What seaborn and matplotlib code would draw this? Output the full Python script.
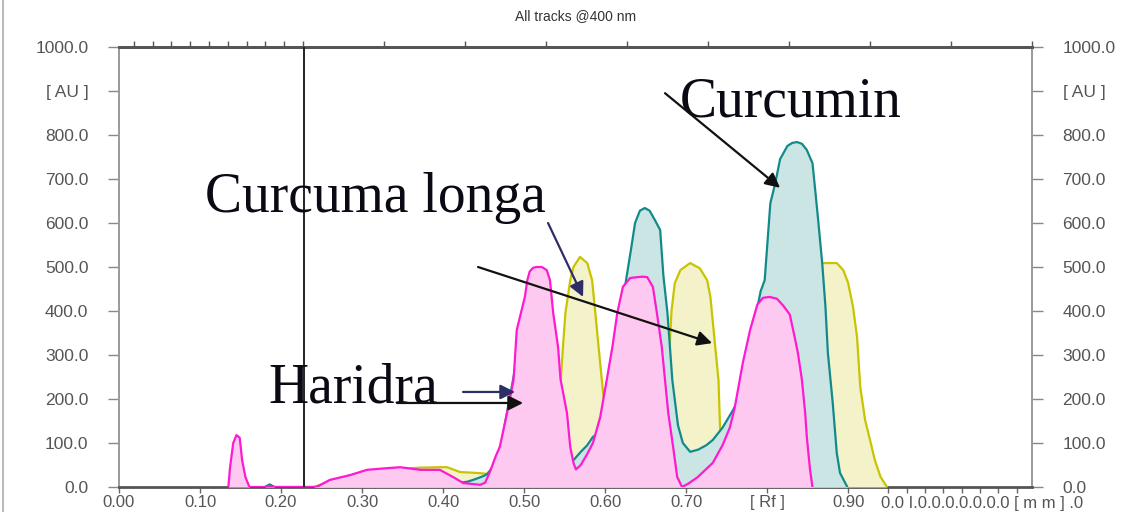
import numpy as np
import seaborn as sns
import matplotlib.pyplot as plt
from matplotlib.lines import Line2D

# densitogram tracks (Rf, AU)
rf_haridra = [0.135, 0.137, 0.141, 0.145, 0.149, 0.152, 0.156, 0.161, 0.244, 0.260,
              0.285, 0.306, 0.325, 0.347, 0.372, 0.396, 0.412, 0.425, 0.446, 0.452,
              0.458, 0.465, 0.470, 0.479, 0.487, 0.491, 0.501, 0.504, 0.507, 0.511,
              0.515, 0.522, 0.528, 0.532, 0.536, 0.542, 0.545, 0.553, 0.557, 0.561,
              0.564, 0.570, 0.578, 0.585, 0.594, 0.602, 0.609, 0.615, 0.622, 0.631,
              0.640, 0.646, 0.652, 0.659, 0.664, 0.670, 0.674, 0.678, 0.684, 0.689,
              0.695, 0.703, 0.714, 0.733, 0.745, 0.754, 0.760, 0.770, 0.779, 0.788,
              0.795, 0.803, 0.812, 0.820, 0.828, 0.834, 0.838, 0.843, 0.847, 0.849,
              0.853, 0.856]
au_haridra = [0, 43, 100, 118, 112, 61, 23, 0, 0, 16,
              27, 39, 42, 45, 39, 39, 23, 9, 5, 10,
              35, 70, 91, 168, 243, 357, 432, 470, 490, 498,
              500, 500, 493, 470, 395, 318, 245, 168, 91, 55,
              40, 50, 75, 100, 159, 243, 318, 395, 455, 475,
              477, 478, 477, 455, 395, 318, 243, 168, 91, 23,
              0, 8, 22, 55, 95, 135, 180, 282, 357, 415,
              430, 432, 428, 412, 392, 341, 305, 243, 168, 114,
              39, 0]

rf_curcumin = [0.180, 0.186, 0.192, 0.244, 0.260, 0.300, 0.350, 0.380, 0.400, 0.412,
               0.421, 0.430, 0.440, 0.450, 0.455, 0.465, 0.470, 0.490, 0.500, 0.515,
               0.530, 0.540, 0.550, 0.556, 0.561, 0.570, 0.578, 0.585, 0.590, 0.600,
               0.610, 0.620, 0.625, 0.632, 0.637, 0.643, 0.649, 0.655, 0.662, 0.668,
               0.672, 0.677, 0.683, 0.690, 0.696, 0.705, 0.715, 0.725, 0.733, 0.745,
               0.758, 0.765, 0.775, 0.785, 0.792, 0.797, 0.804, 0.810, 0.816, 0.825,
               0.831, 0.837, 0.843, 0.849, 0.856, 0.859, 0.863, 0.868, 0.872, 0.875,
               0.881, 0.886, 0.890, 0.899]
au_curcumin = [0, 6, 0, 0, 14, 33, 42, 37, 30, 20,
               10, 12, 18, 25, 30, 55, 80, 280, 380, 440,
               400, 250, 90, 55, 61, 80, 95, 114, 120, 190,
               300, 420, 460, 540, 600, 628, 634, 628, 605, 584,
               480, 395, 243, 140, 100, 80, 85, 95, 107, 135,
               175, 200, 260, 380, 445, 470, 645, 690, 745, 775,
               782, 784, 780, 766, 736, 682, 607, 509, 410, 305,
               191, 77, 32, 0]

rf_longa = [0.240, 0.260, 0.300, 0.350, 0.372, 0.396, 0.405, 0.421, 0.442, 0.454,
            0.465, 0.480, 0.500, 0.520, 0.535, 0.541, 0.545, 0.548, 0.551, 0.557,
            0.561, 0.569, 0.578, 0.584, 0.588, 0.592, 0.596, 0.600, 0.605, 0.612,
            0.640, 0.660, 0.672, 0.676, 0.680, 0.682, 0.686, 0.693, 0.705, 0.717,
            0.726, 0.730, 0.736, 0.740, 0.742, 0.746, 0.780, 0.820, 0.850, 0.862,
            0.868, 0.886, 0.894, 0.900, 0.906, 0.911, 0.915, 0.921, 0.927, 0.933,
            0.940, 0.948]
au_longa = [0, 12, 30, 42, 44, 45, 45, 34, 32, 30,
            50, 100, 200, 220, 180, 170, 235, 318, 395, 470,
            500, 523, 509, 470, 395, 318, 243, 170, 120, 110,
            120, 130, 150, 230, 330, 400, 463, 493, 509, 497,
            470, 432, 318, 243, 130, 110, 150, 300, 450, 500,
            509, 509, 493, 464, 410, 341, 227, 152, 107, 61,
            23, 0]

y_ticks = [0, 100, 200, 300, 400, 500, 600, 700, 800, 900, 1000]
y_labels = ['0.0', '100.0', '200.0', '300.0', '400.0', '500.0', '600.0',
            '700.0', '800.0', '[ AU ]', '1000.0']
x_ticks = [0.0, 0.1, 0.2, 0.3, 0.4, 0.5, 0.6, 0.7, 0.8, 0.9]
x_labels = ['0.00', '0.10', '0.20', '0.30', '0.40', '0.50', '0.60', '0.70',
            '[ Rf ]', '0.90']
mm_ticks = [0.949, 0.973, 0.995, 1.017, 1.041, 1.063, 1.085, 1.109]

sns.set_style('white')
plt.rcParams['font.family'] = ['Liberation Sans', 'DejaVu Sans']

fig = plt.figure(figsize=(11.3, 5.12), dpi=100)
ax = fig.add_axes([0.1053, 0.0488, 0.808, 0.8594])

tracks = [
    (rf_longa, au_longa, '#c8c400', '#f3f2c9'),
    (rf_curcumin, au_curcumin, '#138a8a', '#cbe5e5'),
    (rf_haridra, au_haridra, '#ff1ad0', '#fdc9f0'),
]
z = 3
for rf, au, line_col, fill_col in tracks:
    ax.fill_between(rf, au, 0, color=fill_col, lw=0, zorder=z)
    sns.lineplot(x=rf, y=au, ax=ax, color=line_col, lw=1.6, zorder=z + 0.1,
                 errorbar=None, sort=False)
    z += 0.2

# application position line
ax.axvline(0.228, color='#222222', lw=1.4, zorder=4)

ax.set_xlim(0, 1.127)
ax.set_ylim(0, 1000)
ax.set_xlabel('')
ax.set_ylabel('')

ax.set_yticks(y_ticks)
ax.set_yticklabels(y_labels)
ax.set_xticks(x_ticks)
ax.set_xticklabels(x_labels)
ax.set_xticks(mm_ticks, minor=True)
ax.tick_params(axis='y', left=True, right=True, labelleft=True, labelright=True,
               length=8, width=1, color='#888888', labelsize=12.5,
               labelcolor='#555555', pad=14)
ax.tick_params(axis='x', which='both', bottom=True, length=4, width=1,
               color='#666666', labelsize=12, labelcolor='#555555', pad=2)

top = ax.secondary_xaxis('top')
top.set_xticks(list(np.linspace(-0.005, 0.227, 11)) + list(np.arange(0.327, 1.13, 0.1)))
top.tick_params(axis='x', length=4, width=1, color='#555555', labeltop=False)
top.spines['top'].set_color('#555555')
top.spines['top'].set_linewidth(2)

for side in ['left', 'right']:
    ax.spines[side].set_color('#999999')
    ax.spines[side].set_linewidth(1.4)
for side in ['top', 'bottom']:
    ax.spines[side].set_color('#555555')
    ax.spines[side].set_linewidth(2)

ax.text(0.9405, -20, '0.0 I.0.0.0.0.0.0.0 [ m m ] .0', transform=ax.transData,
        fontsize=12, color='#555555', ha='left', va='top')

fig.text(0.509, 0.969, 'All tracks @400 nm', ha='center', va='center',
         fontsize=10, color='#333333')

# hand-drawn labels and arrows
serif = dict(family='Liberation Serif', fontsize=40, color='#0a0a14')
ax.text(0.6926, 841, 'Curcumin', ha='left', va='baseline', zorder=6, **serif)
ax.text(0.106, 625, 'Curcuma longa', ha='left', va='baseline', zorder=6, **serif)
ax.text(0.184, 191, 'Haridra', ha='left', va='baseline', zorder=6, **serif)

black = dict(arrowstyle='-|>', color='#111111', lw=1.6, mutation_scale=22,
             shrinkA=0, shrinkB=0)
navy = dict(arrowstyle='-|>', color='#2e2e66', lw=1.6, mutation_scale=22,
            shrinkA=0, shrinkB=0)
ax.annotate('', xy=(0.816, 680), xytext=(0.674, 895), arrowprops=black, zorder=7)
ax.annotate('', xy=(0.5728, 432), xytext=(0.5296, 600), arrowprops=navy, zorder=7)
ax.annotate('', xy=(0.7321, 327), xytext=(0.4432, 500), arrowprops=black, zorder=7)
ax.annotate('', xy=(0.4889, 216), xytext=(0.4247, 216), arrowprops=navy, zorder=7)
ax.annotate('', xy=(0.4988, 191), xytext=(0.3432, 191), arrowprops=black, zorder=7)

fig.add_artist(Line2D([0.003, 0.003], [0, 1], color='#bbbbbb', lw=1.5))

fig.savefig('out.png', dpi=100)
